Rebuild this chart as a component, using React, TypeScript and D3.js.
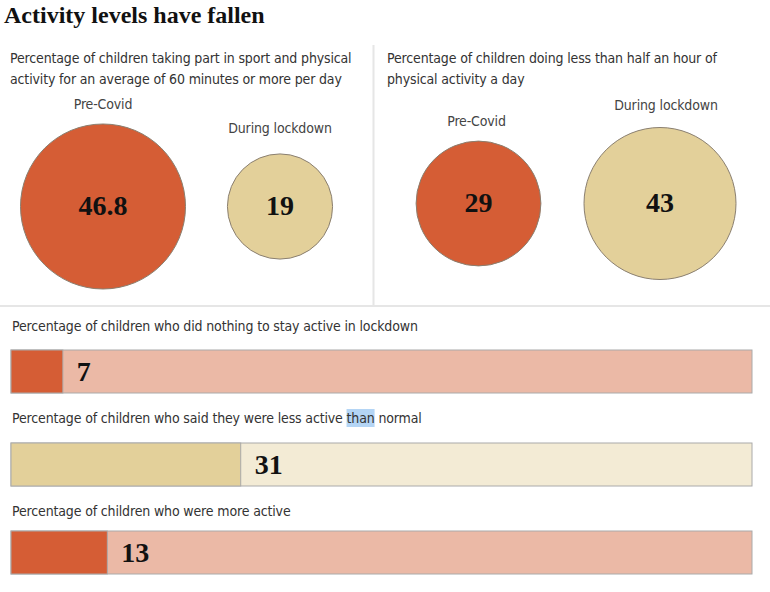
import * as d3 from "d3";
import React, { useLayoutEffect, useRef, useState } from "react";

const title = "Activity levels have fallen";

const circleLabels = ["Pre-Covid", "During lockdown"];
const sportValues = [46.8, 19];
const lowActivityValues = [29, 43];

const barTitles = [
  "Percentage of children who did nothing to stay active in lockdown",
  "Percentage of children who said they were less active than normal",
  "Percentage of children who were more active",
];
const barValues = [7, 31, 13];

const ORANGE = "#d55d35";
const PINK = "#ebb9a6";
const BEIGE = "#e3d09a";
const CREAM = "#f3ebd5";

const SANS = "'Liberation Sans Narrow', 'DejaVu Sans Condensed', 'Roboto Condensed', sans-serif";
const SERIF = "'Liberation Serif', 'DejaVu Serif', serif";
const LS = -0.15;

const App = () => {
  const width = 770;
  const height = 592;

  const hlRef = useRef<SVGTextElement | null>(null);
  const [hl, setHl] = useState<{ x: number; w: number } | null>(null);

  useLayoutEffect(() => {
    const el = hlRef.current;
    if (!el) return;
    const txt = barTitles[1];
    const i = txt.indexOf("than");
    const x = el.getSubStringLength(0, i);
    const w = el.getSubStringLength(i, 4);
    setHl({ x, w });
  }, []);

  // each panel is scaled by its own max
  const rLeft = d3.scaleSqrt().domain([0, d3.max(sportValues)!]).range([0, 82.5]);
  const rRight = d3.scaleSqrt().domain([0, d3.max(lowActivityValues)!]).range([0, 76]);

  const panels = [
    {
      lines: [
        "Percentage of children taking part in sport and physical",
        "activity for an average of 60 minutes or more per day",
      ],
      x0: 10,
      values: sportValues,
      cx: [103, 280],
      cy: 206.5,
      r: rLeft,
      labelGap: [15, 21],
      labelDx: [0, 0],
    },
    {
      lines: ["Percentage of children doing less than half an hour of", "physical activity a day"],
      x0: 387,
      values: lowActivityValues,
      cx: [478.5, 660],
      cy: 203.5,
      r: rRight,
      labelGap: [15, 18],
      labelDx: [-2, 6],
    },
  ];

  const xBar = d3.scaleLinear().domain([0, 100]).range([11, 752]);
  const barTop = [350, 443, 531];
  const barTitleY = [331, 423, 516];
  const barH = 43;
  const barColors = [
    [ORANGE, PINK],
    [BEIGE, CREAM],
    [ORANGE, PINK],
  ];

  return (
    <svg width={width} height={height} style={{ position: "absolute", left: 0, top: 0 }}>
      <rect width={width} height={height} fill="#fff" />
      <text x={4} y={23} fontFamily={SERIF} fontWeight="bold" fontSize={24} fill="#111">
        {title}
      </text>

      <line x1={373.5} x2={373.5} y1={45} y2={305} stroke="#e6e6e6" strokeWidth={2} />
      <line x1={0} x2={770} y1={306} y2={306} stroke="#e6e6e6" strokeWidth={2} />

      {panels.map((p, pi) => (
        <g key={pi}>
          {p.lines.map((ln, li) => (
            <text
              key={li}
              x={p.x0}
              y={63 + li * 21}
              fontFamily={SANS}
              fontSize={14}
              letterSpacing={LS}
              fill="#333"
            >
              {ln}
            </text>
          ))}
          {p.values.map((v, i) => {
            const r = p.r(v);
            return (
              <g key={i}>
                <text
                  x={p.cx[i] + p.labelDx[i]}
                  y={p.cy - r - p.labelGap[i]}
                  textAnchor="middle"
                  fontFamily={SANS}
                  fontSize={14}
                  letterSpacing={LS}
                  fill="#444"
                >
                  {circleLabels[i]}
                </text>
                <circle
                  cx={p.cx[i]}
                  cy={p.cy}
                  r={r}
                  fill={i === 0 ? ORANGE : BEIGE}
                  stroke="#8a7f70"
                  strokeWidth={1}
                />
                <text
                  x={p.cx[i]}
                  y={p.cy}
                  dy="0.32em"
                  textAnchor="middle"
                  fontFamily={SERIF}
                  fontWeight="bold"
                  fontSize={28}
                  fill="#111"
                >
                  {v}
                </text>
              </g>
            );
          })}
        </g>
      ))}

      {barValues.map((v, i) => {
        const y = barTop[i];
        const ty = barTitleY[i];
        return (
          <g key={i}>
            {i === 1 && hl && (
              <rect x={12 + hl.x} y={ty - 14} width={hl.w} height={18} fill="#b4d5f5" />
            )}
            <text
              ref={i === 1 ? hlRef : undefined}
              x={12}
              y={ty}
              fontFamily={SANS}
              fontSize={14}
              letterSpacing={LS}
              fill="#333"
            >
              {barTitles[i]}
            </text>
            <rect
              x={xBar(0)}
              y={y}
              width={xBar(100) - xBar(0)}
              height={barH}
              fill={barColors[i][1]}
              stroke="#aaa"
              strokeWidth={1}
            />
            <rect
              x={xBar(0)}
              y={y}
              width={xBar(v) - xBar(0)}
              height={barH}
              fill={barColors[i][0]}
              stroke="#aaa"
              strokeWidth={1}
            />
            <text
              x={xBar(v) + 14}
              y={y + barH / 2}
              dy="0.33em"
              fontFamily={SERIF}
              fontWeight="bold"
              fontSize={28}
              fill="#111"
            >
              {v}
            </text>
          </g>
        );
      })}
    </svg>
  );
};

export default App;
